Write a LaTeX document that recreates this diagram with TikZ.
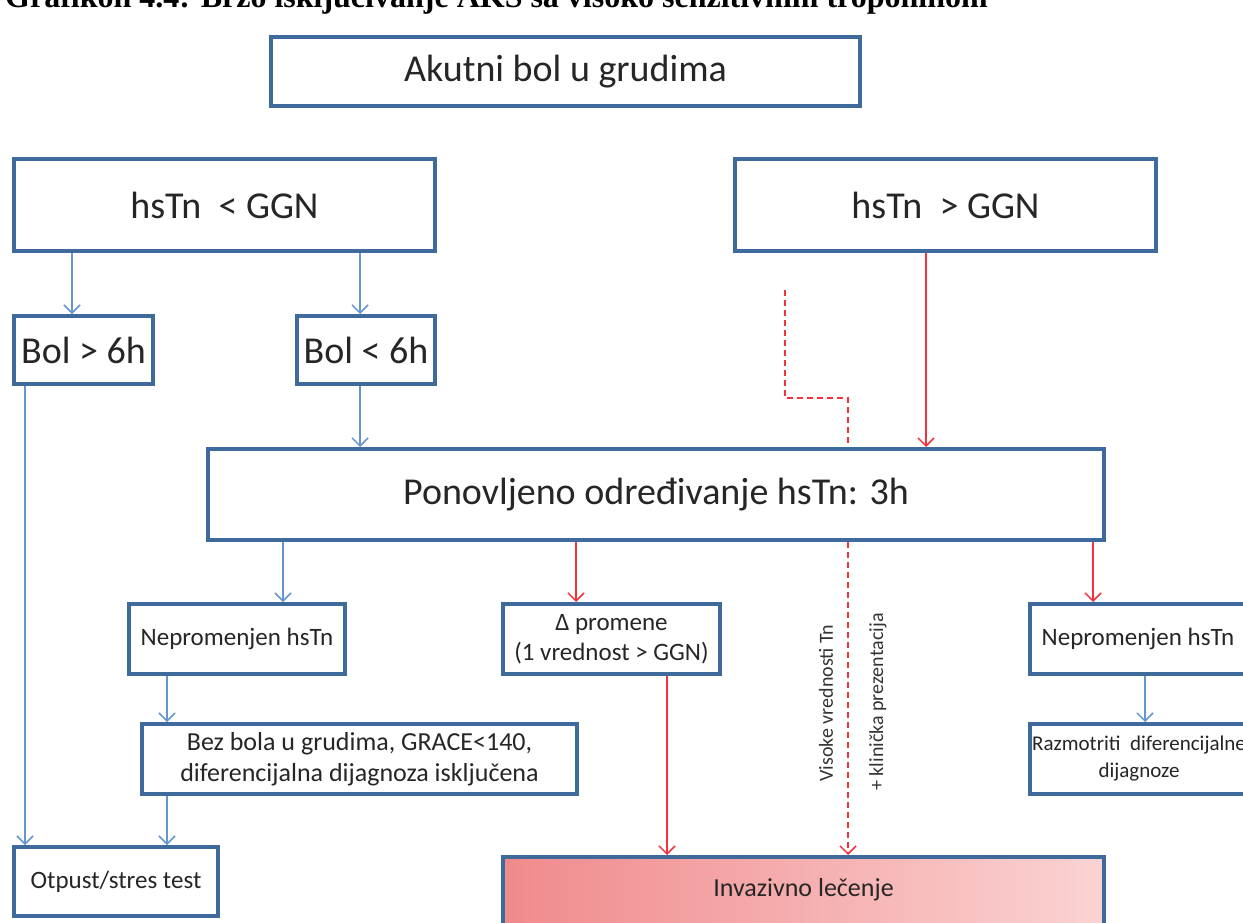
\documentclass[tikz,border=0pt]{standalone}
\usepackage{fontspec}
\setmainfont{Carlito}
\newfontfamily\titlefont{Liberation Serif}
\usetikzlibrary{arrows.meta,positioning}
\definecolor{boxblue}{HTML}{3E6A9C}
\definecolor{arrblue}{HTML}{6596D2}
\definecolor{arrred}{HTML}{F2323C}
\definecolor{invleft}{HTML}{F08A8C}
\definecolor{invright}{HTML}{FBD3D3}

\begin{document}
\begin{tikzpicture}[x=1pt, y=-1pt,
  box/.style={draw=boxblue, line width=4pt, rectangle, fill=white, inner sep=0pt, align=center, text=black!85},
  big/.style={font=\fontsize{38}{42}\selectfont},
  small/.style={font=\fontsize{25}{30}\selectfont},
  lab/.style={font=\fontsize{20}{24}\selectfont, text=black!80, inner sep=0pt},
  barrow/.style={-{Straight Barb[length=8pt,width=16pt]}, draw=arrblue, line width=1.5pt},
  rarrow/.style={-{Straight Barb[length=8pt,width=16pt]}, draw=arrred, line width=1.5pt},
  rdash/.style={draw=arrred, line width=1.5pt, dash pattern=on 6pt off 4pt}]
\useasboundingbox (0,0) rectangle (1243,923);
\clip (0,0) rectangle (1243,923);

\node[anchor=base west, inner sep=0pt, font=\titlefont\bfseries\fontsize{32}{32}\selectfont] (title) at (5,8) {Grafikon 4.4: Brzo isključivanje AKS sa visoko senzitivnim troponinom};

\node[box, big, minimum width=589, minimum height=69] (pain) at (565.5,71.5) {Akutni bol u grudima};
\node[box, big, minimum width=421, minimum height=92] (hlow) at (224.5,205) {hsTn\ \ < GGN};
\node[box, big, minimum width=421, minimum height=92] (hhigh) at (945.5,205) {hsTn\ \ > GGN};
\node[box, big, minimum width=139, minimum height=68] (bolgt) at (83.5,350) {Bol > 6h};
\node[box, big, minimum width=138, minimum height=68] (bollt) at (366,350) {Bol < 6h};
\node[box, big, minimum width=896, minimum height=91] (pon) at (656,494.5) {Ponovljeno određivanje hsTn: 3h};
\node[box, small, minimum width=216, minimum height=70] (nepl) at (237,639) {Nepromenjen hsTn};
\node[box, small, minimum width=217, minimum height=70] (delta) at (611.5,639) {Δ promene\\(1 vrednost > GGN)};
\node[box, small, minimum width=216, minimum height=70] (nepr) at (1138,639) {Nepromenjen hsTn};
\node[box, small, font=\fontsize{26}{31}\selectfont, minimum width=435, minimum height=70] (bez) at (359.5,759) {Bez bola u grudima, GRACE<140,\\diferencijalna dijagnoza isključena};
\node[box, font=\fontsize{21}{27}\selectfont, minimum width=218, minimum height=70] (razm) at (1139,759) {Razmotriti\ \ diferencijalne\\dijagnoze};
\node[box, small, minimum width=204, minimum height=69] (otp) at (116,881.5) {Otpust/stres test};
\node[box, minimum width=601, minimum height=71, left color=invleft, right color=invright] (inv) at (803.5,892.5) {};
\node[small, font=\fontsize{26}{31}\selectfont, text=black!85] (invtext) at (803.5,890) {Invazivno lečenje};

\node[lab, rotate=90] (vis) at (826,703) {Visoke vrednosti Tn};
\node[lab, rotate=90] (klin) at (878,702) {+ klinička prezentacija};

\coordinate (dstart) at (785,290);
\coordinate (dbend) at (848,398);

\draw[barrow] (hlow.south -| 72,0) -- (bolgt.north -| 72,0);
\draw[barrow] (hlow.south -| 360,0) -- (bollt.north -| 360,0);
\draw[barrow] (bolgt.south -| 25,0) -- (otp.north -| 25,0);
\draw[barrow] (bollt.south -| 360,0) -- (pon.north -| 360,0);
\draw[rarrow] (hhigh.south -| 926,0) -- (pon.north -| 926,0);
\draw[rdash] (dstart) |- (dbend) -- (pon.north -| dbend);
\draw[barrow] (pon.south -| 283,0) -- (nepl.north -| 283,0);
\draw[rarrow] (pon.south -| 576,0) -- (delta.north -| 576,0);
\draw[rarrow] (pon.south -| 1093,0) -- (nepr.north -| 1093,0);
\draw[rdash, -{Straight Barb[length=8pt,width=16pt]}] (pon.south -| dbend) -- (inv.north -| dbend);
\draw[barrow] (nepl.south -| 167,0) -- (bez.north -| 167,0);
\draw[barrow] (bez.south -| 167,0) -- (otp.north -| 167,0);
\draw[rarrow] (delta.south -| 667,0) -- (inv.north -| 667,0);
\draw[barrow] (nepr.south -| 1145,0) -- (razm.north -| 1145,0);

\end{tikzpicture}
\end{document}
